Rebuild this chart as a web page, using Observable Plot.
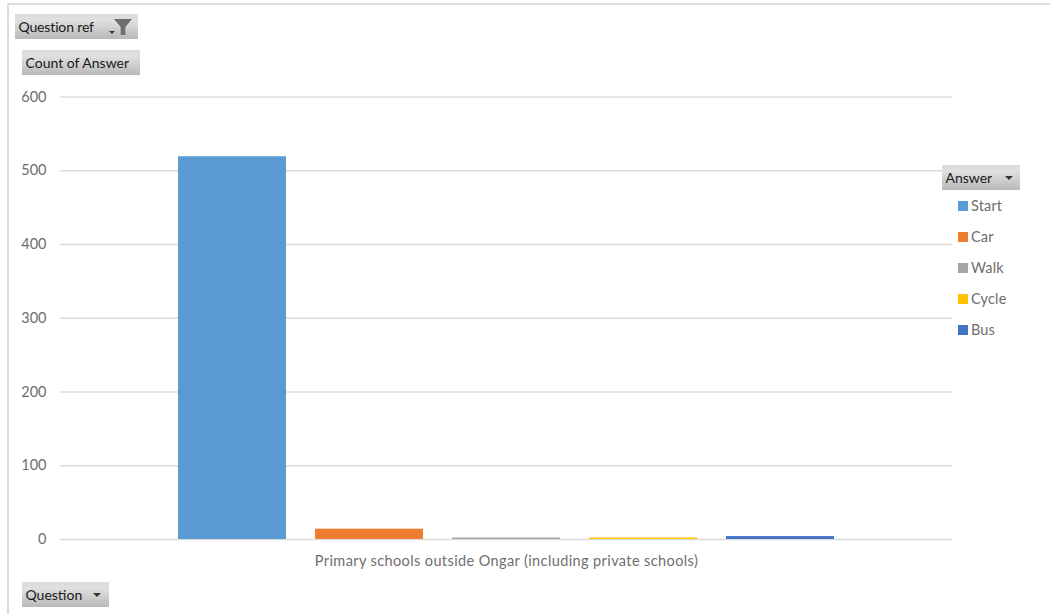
<!DOCTYPE html>
<html>
<head>
<meta charset="utf-8">
<script src="https://cdn.jsdelivr.net/npm/d3@7"></script>
<script src="https://cdn.jsdelivr.net/npm/@observablehq/plot@0.6"></script>
<style>
html,body{margin:0;padding:0;background:#fff;overflow:hidden}
#wrap{position:relative;width:1050px;height:614px;font-family:Lato,"Open Sans",sans-serif;overflow:hidden}
#wrap svg.chart{position:absolute;left:0;top:0}
.frame-top{position:absolute;left:7px;top:3px;right:0;height:2px;background:#dcdcdc}
.frame-left{position:absolute;left:7px;top:3px;bottom:0;width:2px;background:#dcdcdc}
.btn{position:absolute;height:25px;line-height:25px;font-size:14px;color:#1a1a1a;white-space:nowrap;
 background:linear-gradient(#dcdcdc,#e0e0e0 25%,#b9b9b9);box-sizing:border-box;padding-left:3.5px}
.caret{position:absolute;width:0;height:0;border-left:4px solid transparent;border-right:4px solid transparent;border-top:4px solid #333}
.funnel{position:absolute;left:99px;top:5px;width:18px;height:16px;background:#6e6e6e;
 clip-path:polygon(0 0,100% 0,63% 50%,63% 100%,37% 100%,37% 50%)}
.lg{position:absolute;left:971px;font-size:14.5px;letter-spacing:.15px;color:#6e6e6e;line-height:18px;height:18px}
.sw{position:absolute;left:958px;width:10px;height:10px}
</style>
</head>
<body>
<div id="wrap"></div>
<script>
const questionLabel = "Primary schools outside Ongar (including private schools)";
const answers = ["Start", "Car", "Walk", "Cycle", "Bus"];
const counts = [519, 14, 2, 2, 4];
const colours = ["#5b9bd5", "#ed7d31", "#a5a5a5", "#ffc000", "#4472c4"];
const yTicks = [0, 100, 200, 300, 400, 500, 600];
const rows = answers.map((a, i) => ({answer: a, count: counts[i], question: questionLabel}));

const fontFamily = 'Lato,"Open Sans",sans-serif';
const chart = Plot.plot({
  width: 1050, height: 614,
  marginLeft: 60, marginRight: 98, marginTop: 96.5, marginBottom: 75,
  style: {fontFamily, fontSize: "14.5px", color: "#6e6e6e", background: "transparent"},
  y: {domain: [0, 600], ticks: yTicks, label: null},
  x: {domain: answers, paddingInner: 0.2117, paddingOuter: 0.861, align: 0.5, axis: null, label: null},
  color: {domain: answers, range: colours},
  marks: [
    Plot.ruleY(yTicks, {stroke: "#dcdcdc", strokeWidth: 1.6, strokeOpacity: 1}),
    Plot.barY(rows, {x: "answer", y: "count", fill: "answer"}),
    Plot.axisY({ticks: yTicks, tickSize: 0, tickPadding: 14, label: null, fontSize: 14.5, fill: "#6e6e6e"}),
    Plot.text([questionLabel], {frameAnchor: "bottom", dy: 21.5, text: d => d, fill: "#6e6e6e", fontSize: 14.5, lineAnchor: "middle"})
  ]
});
chart.classList.add("chart");
const wrap = document.getElementById("wrap");
wrap.appendChild(chart);
chart.querySelectorAll("text").forEach(t => { if (t.textContent === questionLabel) t.style.letterSpacing = "0.39px"; });

function el(cls, css, text) {
  const d = document.createElement("div");
  d.className = cls;
  Object.assign(d.style, css);
  if (text) d.textContent = text;
  wrap.appendChild(d);
  return d;
}
el("frame-top", {});
el("frame-left", {});

const q = el("btn", {left: "15px", top: "14px", width: "123px", letterSpacing: "-0.15px"}, "Question ref");
q.appendChild(Object.assign(document.createElement("div"), {className: "funnel"}));
const qc = q.appendChild(Object.assign(document.createElement("div"), {className: "caret"}));
Object.assign(qc.style, {left: "94px", top: "17px", borderLeftWidth: "3px", borderRightWidth: "3px", borderTopWidth: "3px"});

el("btn", {left: "22px", top: "50px", width: "118px"}, "Count of Answer");

const qq = el("btn", {left: "22px", top: "582px", width: "87px"}, "Question");
Object.assign(qq.appendChild(Object.assign(document.createElement("div"), {className: "caret"})).style, {left: "71px", top: "11px"});

const ab = el("btn", {left: "942px", top: "165px", width: "78px"}, "Answer");
Object.assign(ab.appendChild(Object.assign(document.createElement("div"), {className: "caret"})).style, {left: "63px", top: "11px"});

const legendY = [206, 237, 267.5, 298.5, 329.5];
answers.forEach((a, i) => {
  el("sw", {top: (legendY[i] - 5) + "px", background: colours[i]});
  el("lg", {top: (legendY[i] - 9) + "px"}, a);
});
</script>
</body>
</html>
